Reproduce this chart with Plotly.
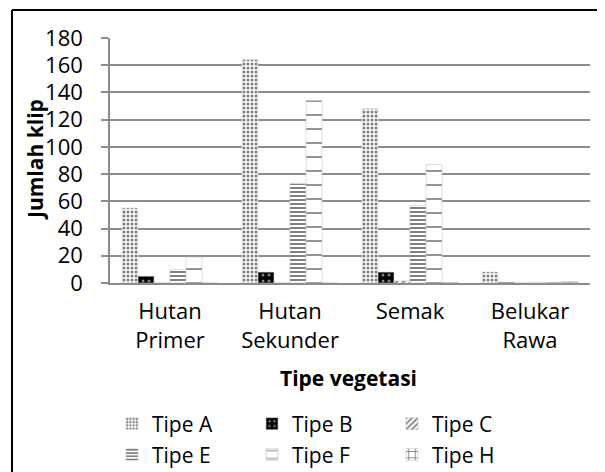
import plotly.graph_objects as go

categories = ["Hutan<br>Primer", "Hutan<br>Sekunder", "Semak", "Belukar<br>Rawa"]
series_names = ["Tipe A", "Tipe B", "Tipe C", "Tipe E", "Tipe F", "Tipe H"]
tipe_a = [55, 164, 128, 8]
tipe_b = [5, 8, 8, 0.5]
tipe_c = [0, 0, 1.5, 0]
tipe_e = [10, 73, 57, 0.5]
tipe_f = [19, 134, 87, 0.5]
tipe_h = [0, 0, 0.5, 1]
y_ticks = [0, 20, 40, 60, 80, 100, 120, 140, 160, 180]

values = [tipe_a, tipe_b, tipe_c, tipe_e, tipe_f, tipe_h]
patterns = [
    dict(shape=".", size=4, solidity=0.45, fgcolor="black", bgcolor="white"),
    dict(shape=".", size=6, solidity=0.2, fgcolor="white", bgcolor="black"),
    dict(shape="/", size=5, solidity=0.45, fgcolor="black", bgcolor="white"),
    dict(shape="-", size=4, solidity=0.5, fgcolor="black", bgcolor="white"),
    dict(shape="-", size=14, solidity=0.12, fgcolor="black", bgcolor="white"),
    dict(shape="+", size=8, solidity=0.25, fgcolor="black", bgcolor="white"),
]
legend_ids = ["legend", "legend", "legend", "legend2", "legend2", "legend2"]

FONT = "Open Sans"
W, H = 605, 472
OX, OY = 8, 8          # page offset of the figure inside the browser
L, R, T, B = 102, 23, 30, 197
PW, PH = W - L - R, H - T - B

def px_x(sx):
    return (sx - OX - L) / PW

def px_y(sy):
    return (H - B - (sy - OY)) / PH

fig = go.Figure()
for name, vals, pat, lg in zip(series_names, values, patterns, legend_ids):
    fig.add_trace(go.Bar(
        name=name, x=categories, y=vals, legend=lg,
        marker=dict(color="white", line=dict(width=0.6, color="#c8c8c8"), pattern=pat),
    ))

legend_common = dict(
    orientation="h", xanchor="left", yanchor="middle",
    font=dict(size=21, family=FONT), entrywidth=95, entrywidthmode="pixels",
    itemclick=False, bgcolor="rgba(0,0,0,0)",
)

fig.update_layout(
    width=W, height=H,
    margin=dict(l=L, r=R, t=T, b=B, autoexpand=False),
    paper_bgcolor="white", plot_bgcolor="white",
    barmode="group", bargap=0.2, bargroupgap=0,
    font=dict(family=FONT, color="black"),
    showlegend=True,
    legend=dict(x=px_x(112), y=px_y(424), **legend_common),
    legend2=dict(x=px_x(112), y=px_y(455), **legend_common),
    xaxis=dict(
        type="category", range=[-0.5, 3.5], showgrid=False,
        showline=True, linecolor="#8c8c8c", linewidth=1.5,
        ticks="", tickfont=dict(size=22, family=FONT),
        ticklabelstandoff=8,
    ),
    yaxis=dict(
        range=[0, 180], tickvals=y_ticks, showgrid=True,
        gridcolor="#8c8c8c", gridwidth=1.5,
        showline=True, linecolor="#8c8c8c", linewidth=1.5,
        ticks="outside", ticklen=7, tickcolor="#8c8c8c", tickwidth=1.5,
        tickfont=dict(size=22, family=FONT), ticklabelstandoff=14,
        zeroline=False,
    ),
)

fig.add_annotation(
    text="<b>Jumlah klip</b>", textangle=-90, xref="paper", yref="paper",
    x=px_x(35), y=px_y(160), xanchor="center", yanchor="middle", showarrow=False,
    font=dict(size=21, family=FONT, color="black"),
)
fig.add_annotation(
    text="<b>Tipe vegetasi</b>", xref="paper", yref="paper",
    x=px_x(348), y=px_y(378), xanchor="center", yanchor="middle", showarrow=False,
    font=dict(size=21, family=FONT, color="black"),
)
# outer frame: top and left edges (right and bottom lie outside the picture)
fig.add_shape(
    type="line", xref="paper", yref="paper",
    x0=px_x(12), y0=px_y(10), x1=px_x(660), y1=px_y(10),
    line=dict(color="black", width=2), layer="below",
)
fig.add_shape(
    type="line", xref="paper", yref="paper",
    x0=px_x(12), y0=px_y(10), x1=px_x(12), y1=px_y(520),
    line=dict(color="black", width=2), layer="below",
)

fig.write_html("out.html")
